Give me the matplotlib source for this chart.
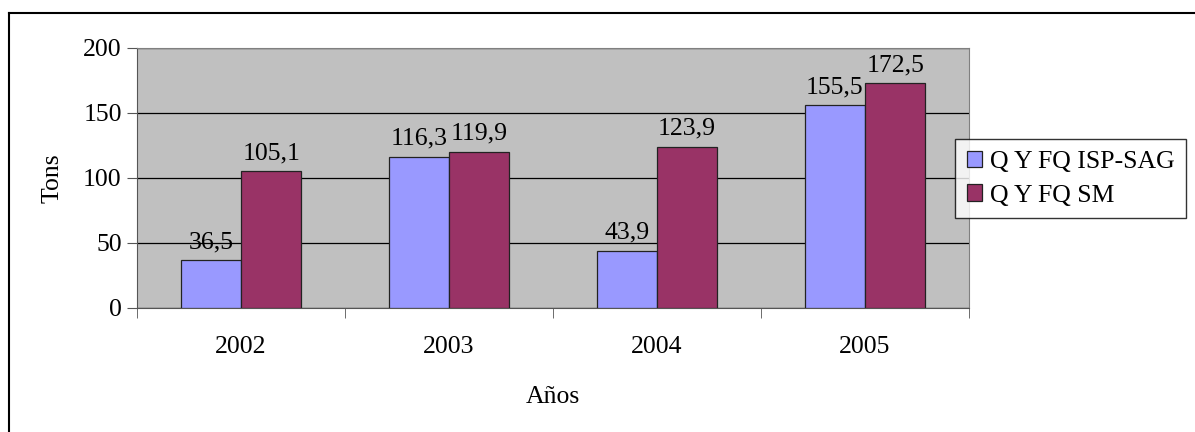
import matplotlib.pyplot as plt
import numpy as np
from matplotlib.lines import Line2D

# Datos
years = ['2002', '2003', '2004', '2005']
isp_sag = [36.5, 116.3, 43.9, 155.5]
sm = [105.1, 119.9, 123.9, 172.5]
series_names = ['Q Y FQ ISP-SAG', 'Q Y FQ SM']
y_ticks = [0, 50, 100, 150, 200]

plt.rcParams['font.family'] = ['Liberation Serif', 'DejaVu Serif']
fs = 18.5

fig = plt.figure(figsize=(11.95, 4.32), dpi=100)
ax = fig.add_axes([137 / 1195, 1 - 308 / 432, 832 / 1195, 260.5 / 432])
ax.set_facecolor('#C0C0C0')

x = np.arange(len(years))
w = 0.29
b1 = ax.bar(x - w / 2, isp_sag, w, color='#9999FF', edgecolor='#222222', linewidth=0.9, zorder=3)
b2 = ax.bar(x + w / 2, sm, w, color='#993366', edgecolor='#222222', linewidth=0.9, zorder=3)

# Etiquetas de valores
for bars, vals in [(b1, isp_sag), (b2, sm)]:
    for rect, v in zip(bars, vals):
        ax.annotate(f"{v:.1f}".replace('.', ','),
                    (rect.get_x() + rect.get_width() / 2, rect.get_height()),
                    xytext=(0, 5), textcoords='offset points',
                    ha='center', va='bottom', fontsize=fs, zorder=4)

ax.set_xlim(-0.5, len(years) - 0.5)
ax.set_ylim(0, 200)
ax.set_yticks(y_ticks)
ax.yaxis.grid(True, color='black', linewidth=0.9, zorder=1)
ax.set_axisbelow(True)

ax.set_xticks(x)
ax.set_xticklabels(years, fontsize=fs)
ax.set_xticks(np.arange(-0.5, len(years)), minor=True)
ax.tick_params(axis='x', which='major', length=0, pad=20)
ax.tick_params(axis='x', which='minor', length=7, direction='out', color='#555555')
ax.tick_params(axis='y', length=7, direction='out', labelsize=fs, color='#555555', pad=4)

for side in ['left', 'bottom']:
    ax.spines[side].set_color('#555555')
for side in ['top', 'right']:
    ax.spines[side].set_color('#808080')

ax.set_ylabel('Tons', fontsize=fs, labelpad=14)
ax.set_xlabel('Años', fontsize=fs, labelpad=20)

leg = fig.legend([b1, b2], series_names, loc='upper left',
                 bbox_to_anchor=(955 / 1195, 1 - 139 / 432),
                 fontsize=fs, frameon=True, fancybox=False, edgecolor='black',
                 handlelength=0.6, handleheight=0.6, handletextpad=0.3,
                 borderpad=0.45, labelspacing=0.45, borderaxespad=0)
leg.get_frame().set_linewidth(1.0)

# Marco exterior (solo borde izquierdo y superior visibles)
x0, y0 = 8.5 / 1195, 1 - 13 / 432
fig.add_artist(Line2D([x0, x0], [0, y0], transform=fig.transFigure, color='black', linewidth=1.5))
fig.add_artist(Line2D([x0, 1], [y0, y0], transform=fig.transFigure, color='black', linewidth=1.5))

fig.savefig('out.png', dpi=100)
